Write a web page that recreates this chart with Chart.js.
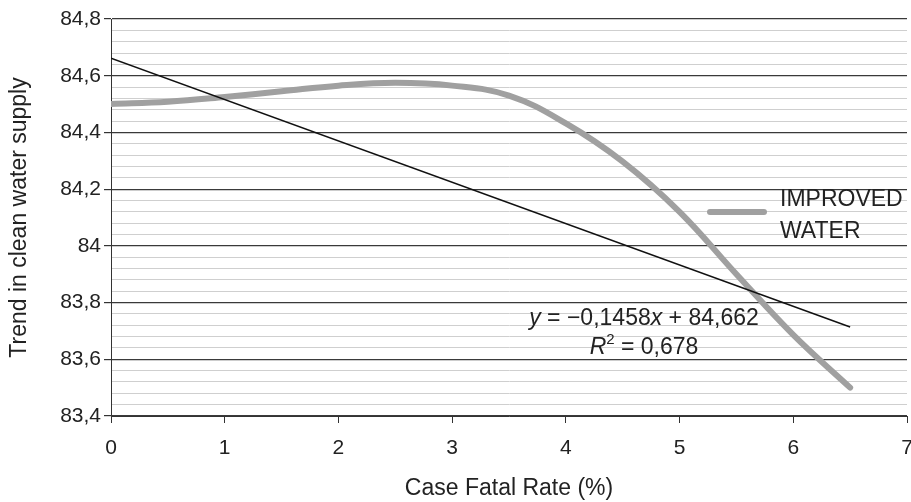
<!DOCTYPE html>
<html>
<head>
<meta charset="utf-8">
<script src="https://cdn.jsdelivr.net/npm/chart.js@4.4.1/dist/chart.umd.min.js"></script>
<style>
  html, body { margin: 0; padding: 0; background: #fff; }
  #wrap { width: 911px; height: 502px; }
</style>
</head>
<body>
<div id="wrap"><canvas id="grafico"></canvas></div>
<script>
// valores
const casoX = [0, 0.5, 1, 1.5, 2, 2.5, 3, 3.5, 4, 4.5, 5, 5.5, 6, 6.5];
const aguaY = [84.5, 84.508, 84.525, 84.545, 84.565, 84.575, 84.565, 84.53, 84.432, 84.297, 84.12, 83.9, 83.686, 83.5];
const tendX = [0, 6.5];
const tendY = [84.662, 83.714];
const legenda = ['IMPROVED', 'WATER'];

const fonte = 'Liberation Sans, Arial, sans-serif';

function fmt(v) {
    return (Math.round(v * 10) / 10).toString().replace('.', ',');
}
function ehMaior(v) {
    return Math.round(v * 100) % 20 === 0;
}

function escreve(ctx, partes, cx, cy) {
    let total = 0;
    partes.forEach(p => { ctx.font = p[1]; total += ctx.measureText(p[0]).width; });
    let x = cx - total / 2;
    partes.forEach(p => {
        ctx.font = p[1];
        ctx.fillText(p[0], x, cy + (p[2] || 0));
        x += ctx.measureText(p[0]).width;
    });
}

const extras = {
    id: 'extras',
    afterDraw(chart) {
        const ctx = chart.ctx;
        const a = chart.chartArea;
        ctx.save();
        // legenda
        const ly = a.top + 193;
        ctx.strokeStyle = '#a0a0a0';
        ctx.lineWidth = 6;
        ctx.lineCap = 'round';
        ctx.beginPath();
        ctx.moveTo(a.left + 599, ly);
        ctx.lineTo(a.left + 653, ly);
        ctx.stroke();
        ctx.fillStyle = '#222';
        ctx.font = '23px ' + fonte;
        ctx.textBaseline = 'middle';
        ctx.textAlign = 'left';
        ctx.fillText(legenda[0], a.left + 669, ly - 12);
        ctx.fillText(legenda[1], a.left + 669, ly + 20);

        // equação da tendência
        const n = '23px ' + fonte, it = 'italic 23px ' + fonte;
        const cx = a.left + 533, cy = a.top + 300;
        escreve(ctx, [['y', it], [' = \u22120,1458', n], ['x', it], [' + 84,662', n]], cx, cy);
        escreve(ctx, [['R', it], ['2', '15px ' + fonte, -8], [' = 0,678', n]], cx, cy + 29);
        ctx.restore();
    }
};

const ctx = document.getElementById('grafico').getContext('2d');
new Chart(ctx, {
    type: 'scatter',
    data: {
        datasets: [{
            label: legenda.join(' '),
            data: casoX.map((x, i) => ({ x: x, y: aguaY[i] })),
            showLine: true,
            borderColor: '#a0a0a0',
            borderWidth: 6,
            borderCapStyle: 'round',
            pointRadius: 0,
            tension: 0.4,
            order: 2
        }, {
            label: 'Linear',
            data: tendX.map((x, i) => ({ x: x, y: tendY[i] })),
            showLine: true,
            borderColor: '#111',
            borderWidth: 1.5,
            pointRadius: 0,
            order: 1
        }]
    },
    options: {
        responsive: true,
        maintainAspectRatio: false,
        animation: false,
        layout: { padding: { top: 19, right: 4, left: 0, bottom: 0 } },
        plugins: {
            legend: { display: false },
            tooltip: { enabled: false }
        },
        scales: {
            x: {
                type: 'linear',
                min: 0,
                max: 7,
                ticks: { stepSize: 1, color: '#222', font: { family: fonte, size: 21 }, padding: 13 },
                grid: { drawOnChartArea: false, color: '#333', tickLength: 7 },
                border: { color: '#333', width: 1 },
                title: { display: true, text: 'Case Fatal Rate (%)', color: '#222', font: { family: fonte, size: 23 }, padding: { top: 0, bottom: 0 } },
                afterFit(s) { s.height = 86; s.paddingRight = 4; s.paddingLeft = 0; }
            },
            y: {
                min: 83.4,
                max: 84.8,
                ticks: {
                    stepSize: 0.04,
                    autoSkip: false,
                    color: '#222',
                    font: { family: fonte, size: 21 },
                    padding: 3,
                    callback: v => ehMaior(v) ? fmt(v) : ''
                },
                grid: {
                    color: c => ehMaior(c.tick.value) ? '#3a3a3a' : '#cfcfcf',
                    tickColor: c => ehMaior(c.tick.value) ? '#333' : 'rgba(0,0,0,0)',
                    lineWidth: c => ehMaior(c.tick.value) ? 1.2 : 1,
                    tickLength: 7
                },
                border: { color: '#333', width: 1 },
                title: { display: true, text: 'Trend in clean water supply', color: '#222', font: { family: fonte, size: 23 }, padding: { top: 6, bottom: 0 } },
                afterFit(s) { s.width = 111; }
            }
        }
    },
    plugins: [extras]
});
</script>
</body>
</html>
